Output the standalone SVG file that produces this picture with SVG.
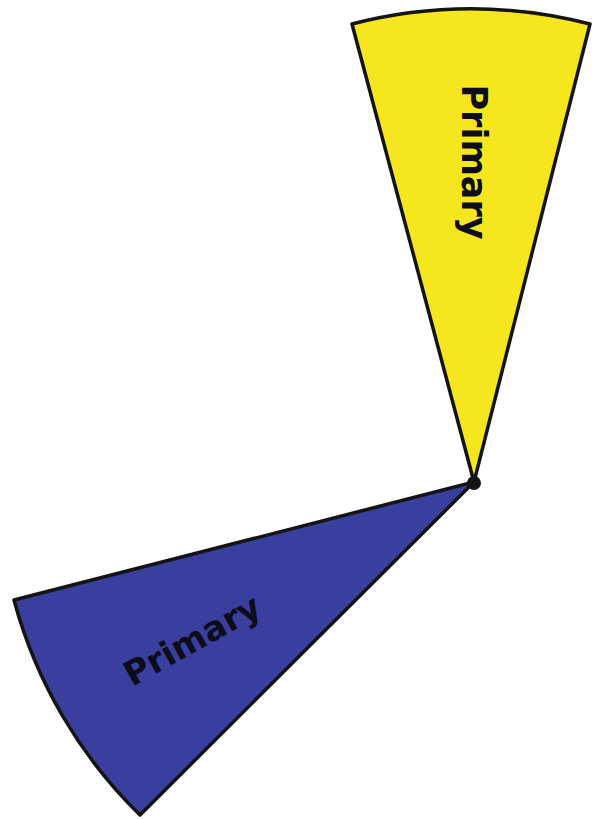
<svg xmlns="http://www.w3.org/2000/svg" width="593" height="819" viewBox="0 0 593 819">
<style>
.w{stroke:#141414;stroke-width:3.5;stroke-linejoin:round}
.t{font-family:"DejaVu Sans",sans-serif;font-weight:bold;fill:#0c0c1a;text-anchor:middle}
</style>
<rect width="593" height="819" fill="#ffffff"/>
<g id="yellow">
<path class="w" d="M474,482 L352,24 A473,473 0 0 1 590,24 Z" fill="#f5e61e"/>
<text class="t" font-size="35" transform="translate(475,162) rotate(90)" y="13">Primary</text>
</g>
<g id="blue">
<path class="w" d="M474,482 L14,600 A473,473 0 0 0 140,815 Z" fill="#3a3f9f"/>
<text class="t" font-size="34" transform="translate(192,640) rotate(-29)" y="12">Primary</text>
</g>
<g id="center"><circle cx="474" cy="483" r="7" fill="#141414"/></g>
<g id="connectors"/>
</svg>
